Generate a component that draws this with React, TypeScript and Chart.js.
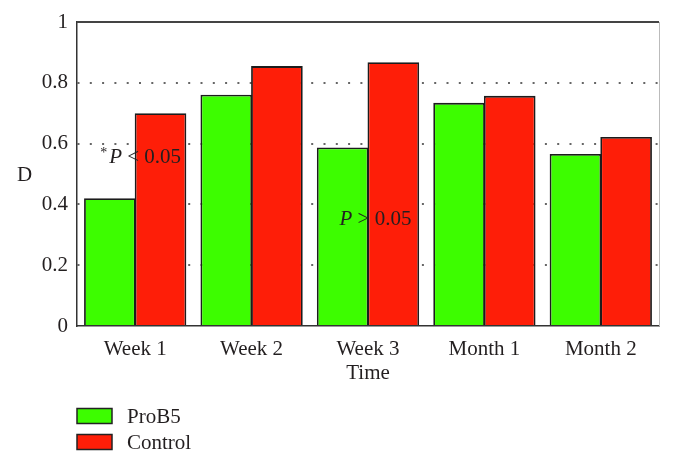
import React, { useEffect, useRef } from "react";
import { Chart, registerables } from "chart.js";

Chart.register(...registerables);

const categories = ["Week 1", "Week 2", "Week 3", "Month 1", "Month 2"];
const seriesNames = ["ProB5", "Control"];
const proB5Values = [0.42, 0.761, 0.587, 0.734, 0.566];
const controlValues = [0.70, 0.855, 0.868, 0.757, 0.622];
const yTickValues = [0, 0.2, 0.4, 0.6, 0.8, 1];
const yAxisLabel = "D";
const xAxisLabel = "Time";
const noteWeek1 = ["*", "P", " < 0.05"];
const noteWeek3 = ["", "P", " > 0.05"];

const GREEN = "#3dfd00";
const RED = "#fe1e08";
const INK = "#231f20";
const FONT = '"Liberation Serif", "Times New Roman", serif';
const FS = 21;

const decorPlugin = {
  id: "decor",
  afterDatasetsDraw(chart: any) {
    const { ctx, chartArea, scales } = chart;
    const x = scales.x;
    const y = scales.y;
    ctx.save();
    // frame: top dark line, right light line
    ctx.strokeStyle = "#444";
    ctx.lineWidth = 2;
    ctx.beginPath();
    ctx.moveTo(chartArea.left, chartArea.top);
    ctx.lineTo(chartArea.right, chartArea.top);
    ctx.stroke();
    ctx.strokeStyle = "#bbb";
    ctx.lineWidth = 1;
    ctx.beginPath();
    ctx.moveTo(chartArea.right + 0.5, chartArea.top);
    ctx.lineTo(chartArea.right + 0.5, chartArea.bottom);
    ctx.stroke();

    // annotations
    ctx.fillStyle = INK;
    ctx.textBaseline = "alphabetic";
    ctx.textAlign = "left";
    const drawNote = (parts: string[], px: number, py: number) => {
      let cx = px;
      if (parts[0]) {
        ctx.font = `14px ${FONT}`;
        ctx.fillText(parts[0], cx, py - 6);
        cx += ctx.measureText(parts[0]).width + 2;
      }
      ctx.font = `italic ${FS}px ${FONT}`;
      ctx.fillText(parts[1], cx, py);
      cx += ctx.measureText(parts[1]).width;
      ctx.font = `${FS}px ${FONT}`;
      ctx.fillText(parts[2], cx, py);
    };
    drawNote(noteWeek1, x.getPixelForValue(0) - 35, y.getPixelForValue(0.536));
    drawNote(noteWeek3, x.getPixelForValue(2) - 28.5, y.getPixelForValue(0.332));

    // y axis label
    ctx.font = `${FS}px ${FONT}`;
    ctx.fillText(yAxisLabel, 17, 181);

    // legend
    const colors = [GREEN, RED];
    seriesNames.forEach((name, i) => {
      const by = 408.5 + i * 26;
      ctx.fillStyle = colors[i];
      ctx.fillRect(77, by, 35, 15);
      ctx.strokeStyle = "#222";
      ctx.lineWidth = 1.5;
      ctx.strokeRect(77, by, 35, 15);
      ctx.fillStyle = INK;
      ctx.font = `${FS}px ${FONT}`;
      ctx.fillText(name, 127, by + 14);
    });
    ctx.restore();
  },
};

export default function App() {
  const ref = useRef<HTMLCanvasElement>(null);
  useEffect(() => {
    document.body.style.margin = "0";
    const canvas = ref.current!;
    const chart = new Chart(canvas, {
      type: "bar",
      data: {
        labels: categories,
        datasets: [
          {
            label: seriesNames[0],
            data: proB5Values,
            backgroundColor: GREEN,
            borderColor: "#1c1c1c",
            borderWidth: 1.8,
          },
          {
            label: seriesNames[1],
            data: controlValues,
            backgroundColor: RED,
            borderColor: "#1c1c1c",
            borderWidth: 1.8,
          },
        ],
      },
      options: {
        animation: false,
        responsive: false,
        devicePixelRatio: 1,
        layout: { padding: { left: 0, right: 15, top: 22, bottom: 79 } },
        plugins: {
          legend: { display: false },
          tooltip: { enabled: false },
        },
        datasets: {
          bar: { categoryPercentage: 0.87, barPercentage: 1.02 },
        },
        scales: {
          x: {
            grid: { display: false, drawTicks: false },
            border: { display: true, color: "#333", width: 1.5 },
            ticks: {
              color: INK,
              font: { family: FONT, size: FS },
              padding: 11,
              maxRotation: 0,
            },
            title: {
              display: true,
              text: xAxisLabel,
              color: INK,
              font: { family: FONT, size: FS },
              padding: { top: 0, bottom: 0 },
            },
            afterFit: (s: any) => {
              s.height = 60;
            },
          },
          y: {
            min: 0,
            max: 1,
            afterBuildTicks: (s: any) => {
              s.ticks = yTickValues.map((v) => ({ value: v }));
            },
            grid: {
              drawTicks: false,
              lineWidth: 2,
              color: (c: any) =>
                c.tick && (c.tick.value === 0 || c.tick.value === 1)
                  ? "rgba(0,0,0,0)"
                  : "#666",
            },
            border: { display: true, color: "#333", width: 1.5, dash: [2, 10.3] },
            ticks: {
              color: INK,
              font: { family: FONT, size: FS },
              padding: 9,
              callback: (v: any) => String(v),
            },
            afterFit: (s: any) => {
              s.width = 77;
            },
          },
        },
      },
      plugins: [decorPlugin],
    });
    return () => chart.destroy();
  }, []);
  return (
    <div style={{ width: 674, height: 465, background: "#fff" }}>
      <canvas ref={ref} width={674} height={465} />
    </div>
  );
}
